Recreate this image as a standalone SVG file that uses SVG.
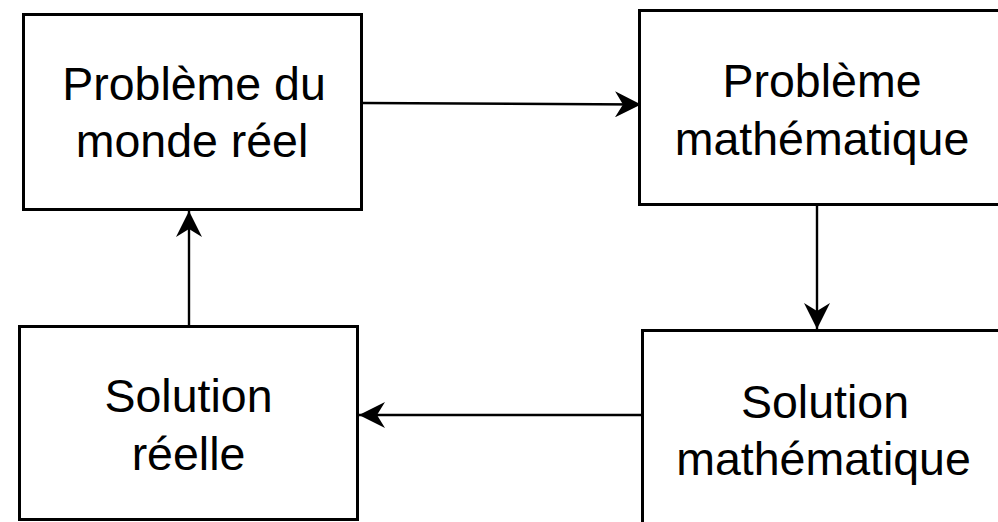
<svg xmlns="http://www.w3.org/2000/svg" width="998" height="522" viewBox="0 0 998 522">
  <defs>
    <marker id="head" viewBox="0 0 26 26" refX="26" refY="13" markerWidth="26" markerHeight="26" markerUnits="userSpaceOnUse" orient="auto">
      <path d="M0,0 L26,13 L0,26 L8,13 Z" fill="#000"/>
    </marker>
    <style>
      .box { fill: #fff; stroke: #000; stroke-width: 3; }
      .lbl { font-family: "Liberation Sans", Arial, sans-serif; font-size: 46.5px; fill: #000; text-anchor: middle; }
      .edge { fill: none; stroke: #000; stroke-width: 2.4; marker-end: url(#head); }
    </style>
  </defs>

  <g id="connectors">
    <line class="edge" x1="363" y1="103" x2="641" y2="104.5"/>
    <line class="edge" x1="817" y1="206" x2="817" y2="329"/>
    <line class="edge" x1="641" y1="415" x2="359" y2="415"/>
    <line class="edge" x1="189" y1="325" x2="189" y2="211"/>
  </g>

  <g id="probleme-reel">
    <rect class="box" x="23.5" y="14.5" width="338" height="195"/>
    <text class="lbl" x="194" y="100">Problème du</text>
    <text class="lbl" x="192" y="157">monde réel</text>
  </g>

  <g id="probleme-math">
    <rect class="box" x="639.5" y="10.5" width="366" height="194"/>
    <text class="lbl" x="822" y="97">Problème</text>
    <text class="lbl" x="822" y="155">mathématique</text>
  </g>

  <g id="solution-math">
    <rect class="box" x="642.5" y="330.5" width="366" height="200"/>
    <text class="lbl" x="825" y="418">Solution</text>
    <text class="lbl" x="823.5" y="475">mathématique</text>
  </g>

  <g id="solution-reelle">
    <rect class="box" x="19.5" y="326.5" width="338" height="193"/>
    <text class="lbl" x="188.5" y="412">Solution</text>
    <text class="lbl" x="188.5" y="470">réelle</text>
  </g>
</svg>
